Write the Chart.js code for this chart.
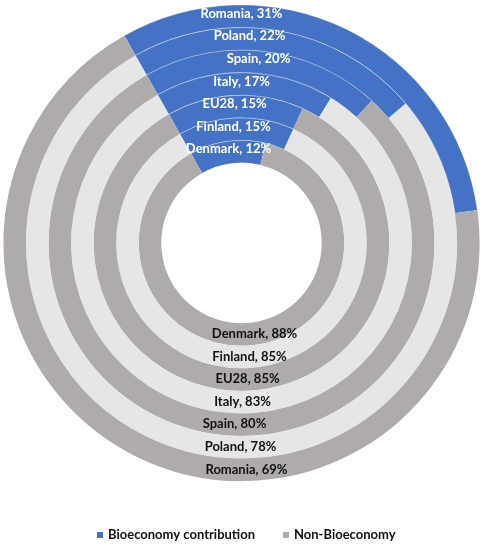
<!DOCTYPE html>
<html lang="en">
<head>
<meta charset="utf-8">
<title>Bioeconomy contribution by country</title>
<script src="https://cdn.jsdelivr.net/npm/chart.js@4.4.1/dist/chart.umd.min.js"></script>
<style>
    html, body { margin: 0; padding: 0; background: #ffffff; }
    #chart-wrap { position: relative; width: 480px; height: 549px; }
</style>
</head>
<body>
<div id="chart-wrap">
    <canvas id="bioChart" width="480" height="549"></canvas>
</div>
<script>
// Rings from outside to inside
const countries = ['Romania', 'Poland', 'Spain', 'Italy', 'EU28', 'Finland', 'Denmark'];
const bioShare = [31, 22, 20, 17, 15, 15, 12];
const nonBioShare = [69, 78, 80, 83, 85, 85, 88];
const seriesNames = ['Bioeconomy contribution', 'Non-Bioeconomy'];

const BLUE = '#4472C4';
const GREY_DARK = '#AEABAA';
const GREY_LIGHT = '#E6E6E6';
const FONT = 'Lato, "Open Sans", sans-serif';

// Hand-placed label nudges (px), same order as countries
const topShift = [0, 8, 17, 0, -7, -8, -13];
const bottomShift = [5, -1, -7, 1, 6, 8, 13];

class BioeconomyChart {
    constructor(canvasId) {
        this.ctx = document.getElementById(canvasId);
        this.render();
    }

    buildDatasets() {
        return countries.map((name, i) => ({
            label: name,
            data: [bioShare[i], nonBioShare[i]],
            backgroundColor: [BLUE, i % 2 === 0 ? GREY_DARK : GREY_LIGHT],
            // only the blue part shows a faint seam between rings
            borderColor: ['rgba(255, 255, 255, 0.4)', 'rgba(255, 255, 255, 0)'],
            borderWidth: [0.8, 0]
        }));
    }

    // Country labels: bioeconomy share on top of each ring, the rest at the bottom
    ringLabels() {
        return {
            id: 'ringLabels',
            afterDatasetsDraw(chart) {
                const { ctx } = chart;
                ctx.save();
                ctx.font = `bold 13px ${FONT}`;
                ctx.textAlign = 'center';
                ctx.textBaseline = 'middle';
                chart.data.datasets.forEach((ds, i) => {
                    const arc = chart.getDatasetMeta(i).data[0];
                    if (!arc) return;
                    const mid = (arc.innerRadius + arc.outerRadius) / 2;
                    ctx.fillStyle = '#ffffff';
                    ctx.fillText(`${countries[i]}, ${ds.data[0]}%`, arc.x + topShift[i], arc.y - mid - 2.5);
                    ctx.fillStyle = '#111111';
                    ctx.fillText(`${countries[i]}, ${ds.data[1]}%`, arc.x + bottomShift[i], arc.y + mid - 0.5);
                });
                ctx.restore();
            }
        };
    }

    // Two-entry legend under the rings
    seriesLegend() {
        return {
            id: 'seriesLegend',
            afterDraw(chart) {
                const { ctx } = chart;
                const y = 535;
                const entries = [
                    { text: seriesNames[0], color: BLUE, x: 97 },
                    { text: seriesNames[1], color: GREY_DARK, x: 283 }
                ];
                ctx.save();
                ctx.font = `bold 13px ${FONT}`;
                ctx.textBaseline = 'middle';
                ctx.textAlign = 'left';
                entries.forEach(e => {
                    ctx.fillStyle = e.color;
                    ctx.fillRect(e.x, y - 3, 6, 6);
                    ctx.fillStyle = '#111111';
                    ctx.fillText(e.text, e.x + 11, y);
                });
                ctx.restore();
            }
        };
    }

    render() {
        new Chart(this.ctx, {
            type: 'doughnut',
            data: {
                labels: seriesNames,
                datasets: this.buildDatasets()
            },
            options: {
                responsive: false,
                animation: false,
                rotation: -29.5,
                cutout: '33.7%',
                layout: {
                    padding: { left: 3, right: 0, top: 4, bottom: 67 }
                },
                plugins: {
                    legend: { display: false },
                    tooltip: { enabled: false }
                }
            },
            plugins: [this.ringLabels(), this.seriesLegend()]
        });
    }
}

document.addEventListener('DOMContentLoaded', () => {
    window.bioChart = new BioeconomyChart('bioChart');
});
</script>
</body>
</html>
